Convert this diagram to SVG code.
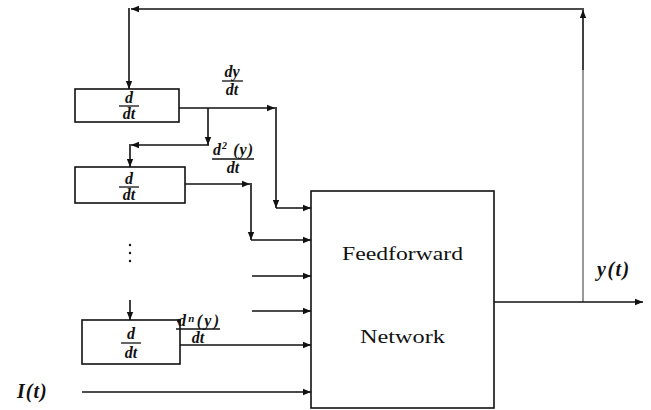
<svg xmlns="http://www.w3.org/2000/svg" width="651" height="410" viewBox="0 0 651 410">
<defs>
<style>
.ln{fill:none;stroke:#111;stroke-width:1.6}
.thin{fill:none;stroke:#333;stroke-width:1}
.box{fill:#fff;stroke:#111;stroke-width:1.6}
.fl{stroke:#111;stroke-width:1.3}
.m{font-family:"Liberation Serif","DejaVu Serif",serif;font-style:italic;font-weight:bold;font-size:16px;fill:#111}
.lbl{font-family:"Liberation Serif","DejaVu Serif",serif;font-size:19px;fill:#111}
.var{font-family:"Liberation Serif","DejaVu Serif",serif;font-style:italic;font-weight:bold;font-size:20px;fill:#111}
</style>
<marker id="ah" markerUnits="userSpaceOnUse" markerWidth="9" markerHeight="8" refX="8" refY="4" orient="auto">
<path d="M0,0.8 L8,4 L0,7.2 Z" fill="#111"/>
</marker>
</defs>
<rect width="651" height="410" fill="#fff"/>

<g id="connectors">
<path class="thin" d="M583,302 L583,70"/>
<path class="ln" d="M583,70 L583,10" stroke-width="2" marker-end="url(#ah)"/>
<path class="ln" d="M584,9 L131,9" marker-end="url(#ah)"/>
<path class="ln" d="M129,8 L129,89" marker-end="url(#ah)"/>

<path class="ln" d="M179,108 L275,108" marker-end="url(#ah)"/>
<path class="ln" d="M276,107 L276,208" marker-end="url(#ah)"/>
<path class="ln" d="M276,208 L311,208" marker-end="url(#ah)"/>

<path class="ln" d="M208,108 L208,145" marker-end="url(#ah)"/>
<path class="ln" d="M209,145 L131,145" marker-end="url(#ah)"/>
<path class="ln" d="M130,144 L130,167" marker-end="url(#ah)"/>

<path class="ln" d="M185,184 L250,184" marker-end="url(#ah)"/>
<path class="ln" d="M251,183 L251,240" marker-end="url(#ah)"/>
<path class="ln" d="M251,240 L311,240" marker-end="url(#ah)"/>

<path class="ln" d="M252,276 L311,276" marker-end="url(#ah)"/>
<path class="ln" d="M252,311 L311,311" marker-end="url(#ah)"/>

<path class="ln" d="M130,300 L130,320" marker-end="url(#ah)"/>
<path class="ln" d="M180,345 L311,345" marker-end="url(#ah)"/>
<path class="ln" d="M82,392 L311,392" marker-end="url(#ah)"/>
<path class="ln" d="M494,302 L643,302" marker-end="url(#ah)"/>
</g>

<g id="deriv1">
<rect class="box" x="75" y="89" width="104" height="33"/>
<text class="m" x="129" y="103" text-anchor="middle">d</text>
<line class="fl" x1="119" y1="106" x2="139" y2="106"/>
<text class="m" x="129" y="119" text-anchor="middle">dt</text>
</g>

<g id="deriv2">
<rect class="box" x="75" y="167" width="110" height="36"/>
<text class="m" x="129" y="184" text-anchor="middle">d</text>
<line class="fl" x1="119" y1="187" x2="139" y2="187"/>
<text class="m" x="129" y="200" text-anchor="middle">dt</text>
</g>

<g id="ellipsis">
<circle cx="130" cy="245" r="1.2" fill="#111"/>
<circle cx="130" cy="253" r="1.2" fill="#111"/>
<circle cx="130" cy="261" r="1.2" fill="#111"/>
</g>

<g id="deriv3">
<rect class="box" x="82" y="320" width="98" height="44"/>
<circle cx="179" cy="321" r="2" fill="#111"/>
<text class="m" x="131" y="339" text-anchor="middle">d</text>
<line class="fl" x1="121" y1="343" x2="141" y2="343"/>
<text class="m" x="131" y="358" text-anchor="middle">dt</text>
</g>

<g id="label-dy">
<text class="m" x="232" y="77" text-anchor="middle">dy</text>
<line class="fl" x1="222" y1="81" x2="243" y2="81"/>
<text class="m" x="232" y="95" text-anchor="middle">dt</text>
</g>

<g id="label-d2y">
<text class="m" x="213" y="155" textLength="40" lengthAdjust="spacing">d<tspan font-size="10" dy="-6">2</tspan><tspan dy="6"> (y)</tspan></text>
<line class="fl" x1="212" y1="159" x2="254" y2="159"/>
<text class="m" x="233" y="173" text-anchor="middle">dt</text>
</g>

<g id="label-dny">
<text class="m" x="178" y="326" textLength="41" lengthAdjust="spacing">d<tspan font-size="11" dy="-4">n</tspan><tspan dy="4">(y)</tspan></text>
<line class="fl" x1="176" y1="329" x2="220" y2="329"/>
<text class="m" x="198" y="343" text-anchor="middle">dt</text>
</g>

<g id="network">
<rect class="box" x="311" y="191" width="183" height="217"/>
<text class="lbl" x="342" y="260" textLength="121" lengthAdjust="spacingAndGlyphs">Feedforward</text>
<text class="lbl" x="360" y="343" textLength="85" lengthAdjust="spacingAndGlyphs">Network</text>
</g>

<g id="label-y">
<text class="var" x="597" y="276" letter-spacing="1.5">y(t)</text>
</g>
<g id="label-I">
<text class="var" x="17" y="398" font-size="23" letter-spacing="1">I(t)</text>
</g>
</svg>
